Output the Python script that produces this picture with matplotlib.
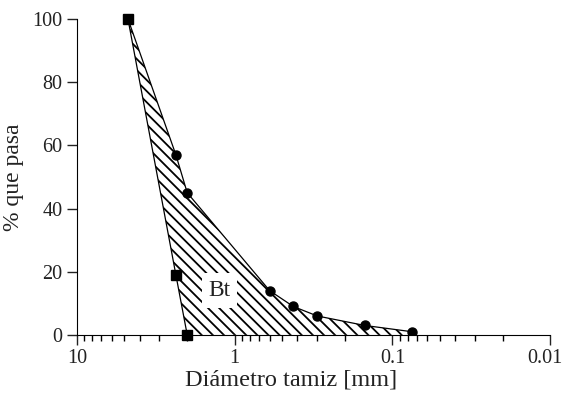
import matplotlib
matplotlib.use("Agg")
import matplotlib.pyplot as plt
import matplotlib.transforms as mtransforms
from matplotlib.ticker import LogLocator, FixedLocator, FixedFormatter, NullFormatter

plt.rcParams["font.family"] = ["Liberation Serif", "DejaVu Serif"]
plt.rcParams["hatch.linewidth"] = 1.3

# límites (cuadrados) y curva superior (círculos)
lim_d = [4.75, 2.36, 2.0]
lim_p = [100, 19, 0]
curva_d = [2.36, 2.0, 0.6, 0.425, 0.3, 0.15, 0.075]
curva_p = [57, 45, 14, 9, 6, 3, 1]

x_ticks = [10, 1, 0.1, 0.01]
x_labels = ["10", "1", "0.1", "0.01"]

fig = plt.figure(figsize=(5.66, 4.04), dpi=100)
ax = fig.add_axes([0.136, 0.171, 0.836, 0.782])

# contorno de la banda
sup_d = [lim_d[0]] + curva_d
sup_p = [lim_p[0]] + curva_p
poly_d = sup_d + [curva_d[-1]] + lim_d[::-1][:-1]
poly_p = sup_p + [0] + lim_p[::-1][:-1]
ax.fill(poly_d, poly_p, facecolor="white", edgecolor="black", hatch="\\\\\\", lw=0)

ax.plot(sup_d, sup_p, color="black", lw=0.9)
ax.plot(lim_d, lim_p, color="black", lw=0.9)
ax.plot(curva_d, curva_p, "o", color="black", ms=6.5)
ax.plot(lim_d, lim_p, "s", color="black", ms=7, clip_on=False, zorder=5)

ax.text(1.25, 14.0, "Bt", fontsize=17, ha="center", va="center", color="#222222",
        bbox=dict(facecolor="white", edgecolor="none", pad=5))

ax.set_xscale("log")
ax.set_xlim(10, 0.01)
ax.set_ylim(0, 100)
ax.xaxis.set_major_locator(FixedLocator(x_ticks))
ax.xaxis.set_major_formatter(FixedFormatter(x_labels))
ax.xaxis.set_minor_locator(LogLocator(base=10, subs=range(2, 10)))
ax.xaxis.set_minor_formatter(NullFormatter())
ax.set_yticks([0, 20, 40, 60, 80, 100])

for s in ["top", "right"]:
    ax.spines[s].set_visible(False)
ax.tick_params(axis="both", which="major", direction="out", length=7, width=1,
               labelsize=14.5, colors="#222222")
ax.tick_params(axis="x", which="minor", direction="out", length=4, width=1)

# la etiqueta 0.01 queda al borde: correrla un poco a la izquierda
fig.canvas.draw()
ultima = ax.get_xticklabels()[-1]
ultima.set_transform(ultima.get_transform() +
                     mtransforms.ScaledTranslation(-4 / 72, 0, fig.dpi_scale_trans))

ax.set_xlabel("Diámetro tamiz [mm]", fontsize=17.5, labelpad=0, color="#222222")
ax.xaxis.set_label_coords(0.452, -0.108)
ax.set_ylabel("% que pasa", fontsize=17, labelpad=6, color="#222222")

fig.savefig("out.png", dpi=100)
